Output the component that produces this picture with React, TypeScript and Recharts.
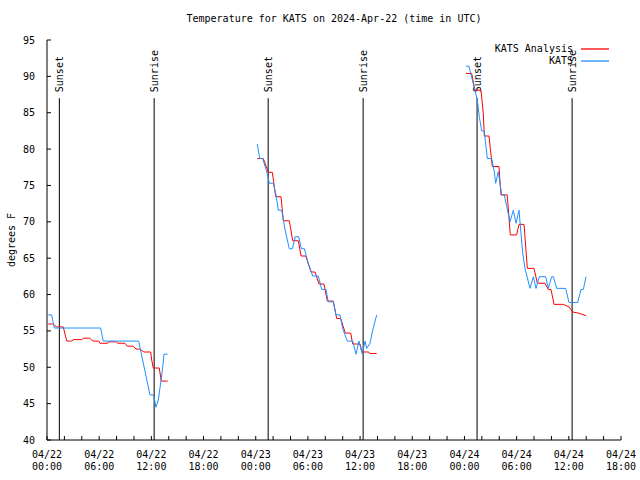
import { LineChart, Line, XAxis, YAxis, ReferenceLine } from 'recharts';

const FONT = '"DejaVu Sans Mono", "Liberation Mono", monospace';

// hours since 2024-04-22 00:00 UTC, null temp = gap between the three runs
const analysisHours = [
  0.15, 0.66, 1.12, 1.87, 2.27, 2.84, 3.02, 3.99, 4.17, 4.94, 5.25, 5.94, 6.09, 6.98, 7.09, 8.0,
  8.13, 8.97, 9.23, 9.92, 10.23, 10.69, 11.15, 11.92, 12.04, 12.22, 12.91, 13.14, 13.88, 18,
  24.18, 24.87, 25.45, 25.91, 26.3, 26.91, 27.17, 27.86, 28.25, 28.9, 29.21, 29.75, 30.36, 30.82,
  31.28, 31.85, 32.23, 32.92, 33.31, 33.77, 34.3, 34.92, 35.15, 35.99, 36.22, 36.94, 37.14, 37.91, 42,
  48.18, 48.83, 49.21, 49.9, 50.17, 50.28, 50.82, 51.2, 51.97, 52.2, 52.92, 53.27, 54.0, 54.27,
  54.85, 55.23, 56.0, 56.38, 57.26, 57.64, 57.95, 58.3, 59.37, 60.02, 60.45, 61.09, 61.98,
];
const analysisTemps = [
  55.95, 55.95, 55.55, 55.55, 53.6, 53.6, 53.8, 53.8, 54.0, 54.0, 53.6, 53.6, 53.3, 53.3, 53.5, 53.5,
  53.3, 53.3, 52.9, 52.9, 52.5, 52.5, 52.1, 52.1, 51.0, 49.9, 49.9, 48.1, 48.1, null,
  78.7, 78.7, 76.8, 76.8, 73.45, 73.45, 70.15, 70.15, 67.4, 67.4, 65.3, 65.3, 63.1, 63.1,
  61.45, 61.45, 59.1, 59.1, 56.7, 56.7, 54.7, 54.7, 53.2, 53.2, 52.1, 52.1, 51.9, 51.9, null,
  90.4, 90.4, 88.1, 88.1, 84.9, 81.8, 81.8, 77.6, 77.6, 73.7, 73.7, 68.2, 68.2, 69.65,
  69.65, 63.6, 63.6, 61.55, 61.55, 60.7, 60.7, 58.65, 58.65, 58.3, 57.6, 57.45, 57.1,
];

const katsHours = [
  0.15, 0.54, 0.84, 6.17, 6.47, 10.54, 11.84, 12.22, 12.3, 12.53, 12.8, 13.3, 13.45, 13.88, 18,
  24.18, 24.41, 24.49, 24.8, 25.18, 25.33, 25.56, 26.02, 26.33, 26.6, 26.99, 27.37, 27.86, 28.21,
  28.55, 28.94, 29.24, 29.59, 30.04, 30.55, 31.19, 31.59, 32.08, 32.34, 32.92, 33.23, 33.69, 34.0,
  34.53, 35.15, 35.53, 35.87, 36.25, 36.56, 36.76, 37.14, 37.45, 37.91, 42,
  48.18, 48.52, 48.72, 49.21, 49.48, 49.71, 49.98, 50.28, 50.63, 51.13, 51.43, 51.59, 51.89, 52.28,
  52.58, 53.24, 53.62, 53.93, 54.27, 54.7, 54.96, 55.54, 55.92, 56.23, 56.61, 57.34, 57.64, 58.03,
  58.22, 58.61, 59.64, 60.02, 61.02, 61.4, 61.67, 61.98,
];
const katsTemps = [
  57.2, 57.2, 55.4, 55.4, 53.6, 53.6, 46.2, 46.2, 45.9, 44.5, 45.5, 49.9, 51.8, 51.8, null,
  80.7, 79.05, 78.7, 78.7, 77.2, 76.6, 75.3, 75.3, 73.7, 71.6, 71.6, 68.9, 66.3, 66.3,
  67.95, 67.95, 66.3, 66.3, 64.3, 62.55, 62.55, 60.7, 60.7, 59.0, 59.0, 57.2, 57.2, 55.3,
  53.6, 53.6, 51.8, 53.6, 51.8, 53.6, 52.6, 53.3, 55.1, 57.2, null,
  91.4, 91.4, 90.4, 88.1, 86.75, 84.45, 82.5, 82.5, 78.7, 78.7, 76.9, 75.3, 76.9, 73.7,
  73.7, 70.0, 71.6, 69.8, 71.6, 65.7, 63.6, 60.85, 62.45, 60.85, 62.45, 62.45, 60.85, 62.45,
  62.45, 60.85, 60.85, 58.9, 58.9, 60.7, 60.7, 62.45,
];

const sunsetHours = [1.42, 25.43, 49.45];
const sunriseHours = [12.32, 36.35, 60.38];

const tickHours = Array.from({ length: 34 }, (_, i) => i * 2);
const dayLabels = ['04/22', '04/22', '04/22', '04/22', '04/23', '04/23', '04/23', '04/23', '04/24', '04/24', '04/24', '04/24'];
const timeLabels = ['00:00', '06:00', '12:00', '18:00', '00:00', '06:00', '12:00', '18:00', '00:00', '06:00', '12:00', '18:00'];
const tempTicks = [40, 45, 50, 55, 60, 65, 70, 75, 80, 85, 90, 95];

const seriesNames = ['KATS Analysis', 'KATS'];
const seriesColors = ['#ff0000', '#1e90ff'];

const analysisData = analysisHours.map((h, i) => ({ h, temp: analysisTemps[i] }));
const katsData = katsHours.map((h, i) => ({ h, temp: katsTemps[i] }));

const TimeTick = (props: any) => {
  const { x, y, payload } = props;
  if (payload.value % 6 !== 0) return null;
  const i = payload.value / 6;
  return (
    <text x={x} y={y} textAnchor="middle" fontFamily={FONT} fontSize={10} fill="#000">
      <tspan x={x} dy={0}>{dayLabels[i]}</tspan>
      <tspan x={x} dy={12}>{timeLabels[i]}</tspan>
    </text>
  );
};

const sunLabel = (text: string) => (props: any) => {
  const { viewBox } = props;
  const x = viewBox.x + 4;
  const y = viewBox.y - 6;
  return (
    <text x={x} y={y} transform={`rotate(-90 ${x} ${y})`} fontFamily={FONT} fontSize={10} fill="#000">
      {text}
    </text>
  );
};

const axisStroke = { stroke: '#000', strokeWidth: 1 };

export default function App() {
  return (
    <div style={{ position: 'absolute', left: 0, top: 0, width: 640, height: 480, background: '#fff' }}>
      <div
        style={{
          position: 'absolute', left: 0, top: 13, width: 668, textAlign: 'center',
          fontFamily: FONT, fontSize: 10, lineHeight: '12px', color: '#000',
        }}
      >
        Temperature for KATS on 2024-Apr-22 (time in UTC)
      </div>
      <LineChart width={640} height={480} margin={{ top: 40, right: 19, bottom: 0, left: 0 }}>
        <XAxis
          xAxisId="bottom" dataKey="h" type="number" domain={[0, 66]} ticks={tickHours} interval={0}
          allowDataOverflow height={40} tickSize={-4} tickMargin={22} tick={<TimeTick />}
          axisLine={axisStroke} tickLine={axisStroke}
        />
        <XAxis
          xAxisId="top" orientation="top" type="number" domain={[0, 66]} ticks={tickHours} interval={0}
          height={0} tickSize={-4} tick={false} axisLine={axisStroke} tickLine={axisStroke}
        />
        <YAxis
          yAxisId="left" type="number" domain={[40, 95]} ticks={tempTicks} interval={0} width={47}
          tickSize={-4} tickMargin={16} axisLine={axisStroke} tickLine={axisStroke}
          tick={{ fill: '#000', fontSize: 10, fontFamily: FONT }}
          label={{
            content: () => (
              <text x={11} y={240} transform="rotate(-90 11 240)" textAnchor="middle" dominantBaseline="central"
                fontFamily={FONT} fontSize={10} fill="#000">
                degrees F
              </text>
            ),
          }}
        />
        <YAxis
          yAxisId="right" orientation="right" type="number" domain={[40, 95]} ticks={tempTicks} interval={0}
          width={0} tickSize={-4} tick={false} axisLine={axisStroke} tickLine={axisStroke}
        />
        {sunsetHours.map((h) => (
          <ReferenceLine key={'ss' + h} xAxisId="bottom" yAxisId="left"
            segment={[{ x: h, y: 40 }, { x: h, y: 87 }]} stroke="#000" strokeWidth={1}
            label={{ content: sunLabel('Sunset') }} />
        ))}
        {sunriseHours.map((h) => (
          <ReferenceLine key={'sr' + h} xAxisId="bottom" yAxisId="left"
            segment={[{ x: h, y: 40 }, { x: h, y: 87 }]} stroke="#000" strokeWidth={1}
            label={{ content: sunLabel('Sunrise') }} />
        ))}
        <Line xAxisId="bottom" yAxisId="left" data={analysisData} dataKey="temp" type="linear"
          stroke={seriesColors[0]} strokeWidth={1} dot={false} connectNulls={false} isAnimationActive={false} />
        <Line xAxisId="bottom" yAxisId="left" data={katsData} dataKey="temp" type="linear"
          stroke={seriesColors[1]} strokeWidth={1} dot={false} connectNulls={false} isAnimationActive={false} />
      </LineChart>
      <div
        style={{
          position: 'absolute', top: 43, right: 31, fontFamily: FONT, fontSize: 10,
          lineHeight: '12px', color: '#000',
        }}
      >
        {seriesNames.map((name, i) => (
          <div key={name} style={{ display: 'flex', justifyContent: 'flex-end', alignItems: 'center', height: 12 }}>
            <span>{name}</span>
            <svg width={36} height={12} style={{ display: 'block' }}>
              <line x1={8} x2={36} y1={6} y2={6} stroke={seriesColors[i]} strokeWidth={1.3} />
            </svg>
          </div>
        ))}
      </div>
    </div>
  );
}
